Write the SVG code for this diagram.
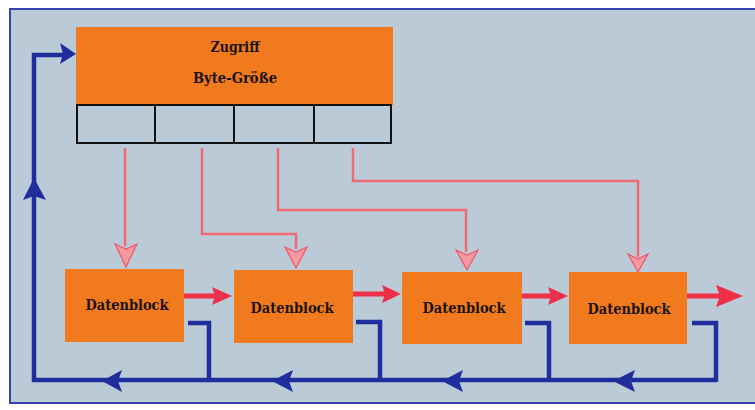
<svg xmlns="http://www.w3.org/2000/svg" width="755" height="410" viewBox="0 0 755 410">
  <defs>
    <style>
      .panel { fill: #bacbd7; stroke: #3346a8; stroke-width: 2; }
      .orange { fill: #f27a1e; }
      .cell { fill: #bacbd7; stroke: #111111; stroke-width: 2; }
      .label { font-family: "DejaVu Serif", "Liberation Serif", serif; font-size: 15px; font-weight: bold; fill: #1a1410; text-anchor: middle; }
      .addr { fill: none; stroke: #f06a76; stroke-width: 2.5; }
      .addrhead { fill: #f59aa2; stroke: #ee5566; stroke-width: 1.2; }
      .flow { fill: none; stroke: #ee2f48; stroke-width: 5; }
      .flowhead { fill: #ee2f48; }
      .back { fill: none; stroke: #1f2e9c; stroke-width: 4.5; stroke-linejoin: miter; }
      .backhead { fill: #1f2e9c; }
    </style>
  </defs>
  <rect x="0" y="0" width="755" height="410" fill="#ffffff"/>
  <rect class="panel" x="10" y="9" width="750" height="394"/>

  <g id="connectors">
    <!-- address lines from cells to blocks -->
    <path class="addr" d="M125 148 V246"/>
    <polygon class="addrhead" points="115,244 126,249 137,244 126,267"/>
    <path class="addr" d="M202 148 V234 H296 V249"/>
    <polygon class="addrhead" points="285,247 296,252 307,247 296,268"/>
    <path class="addr" d="M278 148 V210 H466 V252"/>
    <polygon class="addrhead" points="456,250 467,255 478,250 467,270"/>
    <path class="addr" d="M353 148 V181 H638 V257"/>
    <polygon class="addrhead" points="628,254 638,259 648,254 638,272"/>

    <!-- data flow between blocks -->
    <path class="flow" d="M184 296 H216"/>
    <polygon class="flowhead" points="212,287 232,296 212,305 215,296"/>
    <path class="flow" d="M353 294 H386"/>
    <polygon class="flowhead" points="382,285 401,294 382,303 385,294"/>
    <path class="flow" d="M522 296 H552"/>
    <polygon class="flowhead" points="548,287 568,296 548,305 551,296"/>
    <path class="flow" d="M687 296 H720"/>
    <polygon class="flowhead" points="716,285 743,296 716,307 720,296"/>

    <!-- feedback loop -->
    <path class="back" d="M716 380 H34 V55 H64"/>
    <path class="back" d="M188 323 H209 V380"/>
    <path class="back" d="M356 322 H380 V380"/>
    <path class="back" d="M525 323 H549 V380"/>
    <path class="back" d="M692 323 H716 V382"/>
    <polygon class="backhead" points="76,54 60,43 63,54 60,64"/>
    <polygon class="backhead" points="34,178 46,200 34,196 23,200"/>
    <polygon class="backhead" points="102,381 122,370 118,381 122,392"/>
    <polygon class="backhead" points="272,381 293,370 289,381 293,392"/>
    <polygon class="backhead" points="442,381 463,370 459,381 463,392"/>
    <polygon class="backhead" points="613,381 635,370 631,381 635,392"/>
  </g>

  <g id="access">
    <rect class="orange" x="76" y="27" width="317" height="78"/>
    <rect class="cell" x="77" y="105" width="78" height="38"/>
    <rect class="cell" x="155" y="105" width="79" height="38"/>
    <rect class="cell" x="234" y="105" width="80" height="38"/>
    <rect class="cell" x="314" y="105" width="77" height="38"/>
    <text class="label" x="235" y="52" textLength="49" lengthAdjust="spacingAndGlyphs">Zugriff</text>
    <text class="label" x="235" y="83" textLength="84" lengthAdjust="spacingAndGlyphs">Byte-Größe</text>
  </g>

  <g id="block1">
    <rect class="orange" x="65" y="269" width="119" height="73"/>
    <text class="label" x="127" y="310" textLength="83" lengthAdjust="spacingAndGlyphs">Datenblock</text>
  </g>
  <g id="block2">
    <rect class="orange" x="234" y="270" width="119" height="73"/>
    <text class="label" x="292" y="313" textLength="83" lengthAdjust="spacingAndGlyphs">Datenblock</text>
  </g>
  <g id="block3">
    <rect class="orange" x="402" y="272" width="120" height="72"/>
    <text class="label" x="464" y="313" textLength="83" lengthAdjust="spacingAndGlyphs">Datenblock</text>
  </g>
  <g id="block4">
    <rect class="orange" x="569" y="272" width="118" height="72"/>
    <text class="label" x="629" y="314" textLength="83" lengthAdjust="spacingAndGlyphs">Datenblock</text>
  </g>
</svg>
